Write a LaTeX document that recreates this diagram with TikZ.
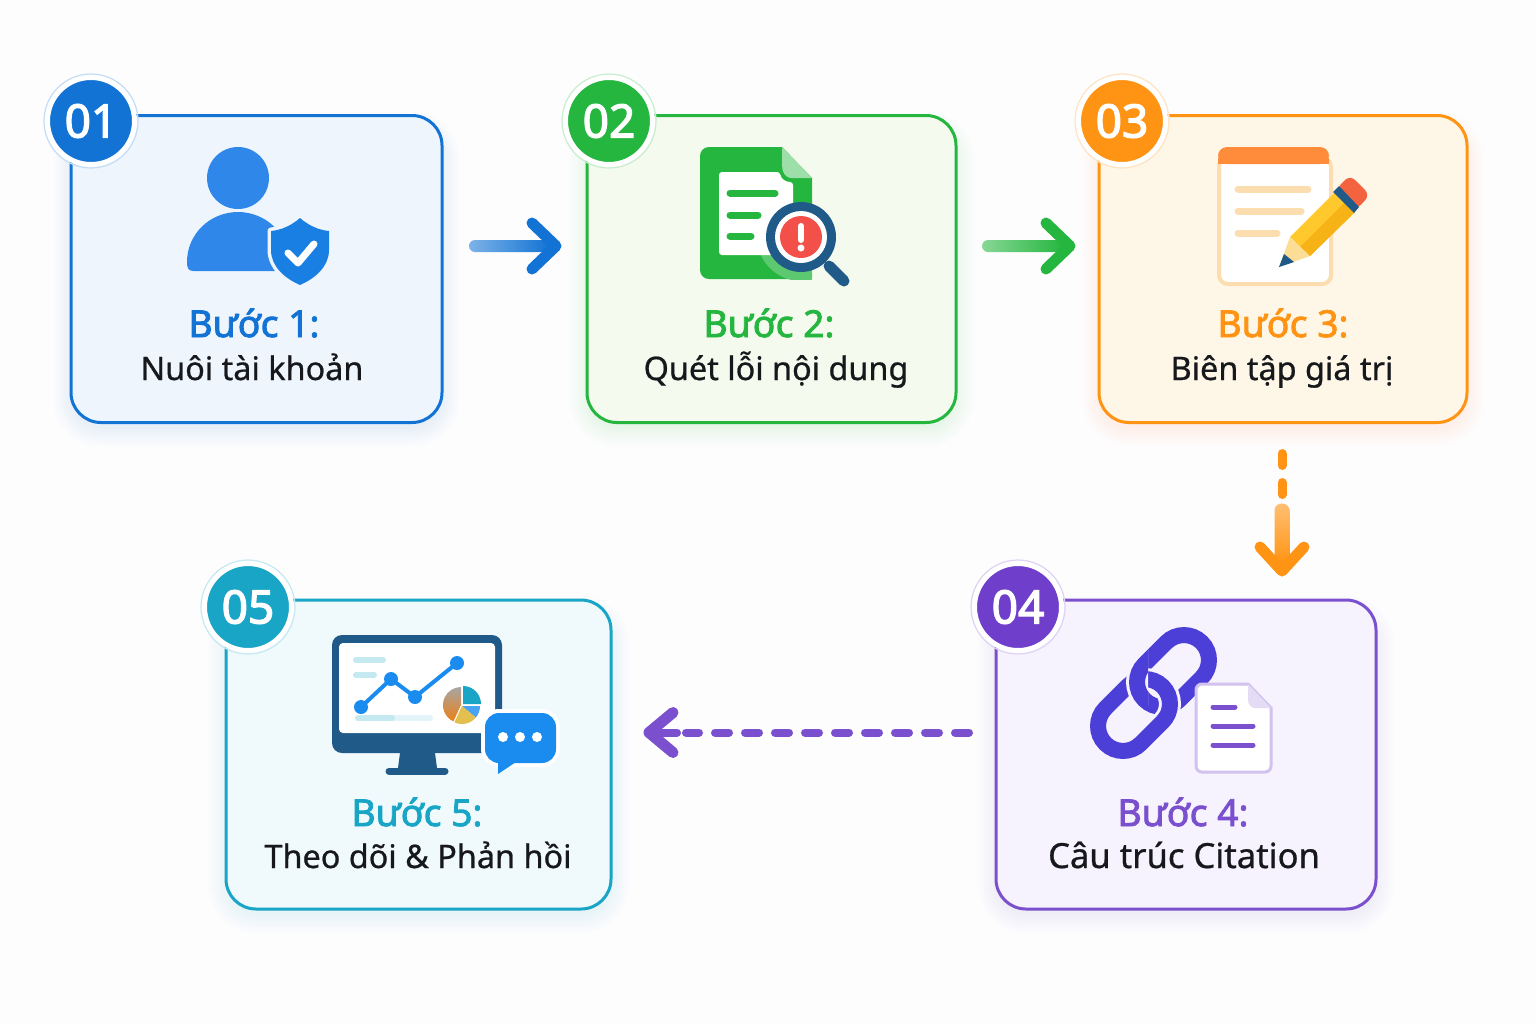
\documentclass[tikz,border=0pt]{standalone}
\usepackage{fontspec}
\setmainfont{Noto Sans}
\newfontfamily\bodyfont{Noto Sans}[RawFeature={embolden=0.7}]
\newfontfamily\titlefont{Noto Sans}[RawFeature={embolden=2.2}]
\newfontfamily\badgefont{Noto Sans}[RawFeature={embolden=2.8}]
\usetikzlibrary{calc, backgrounds}

\definecolor{pagetint}{HTML}{FDFDFE}
\definecolor{stepblue}{HTML}{1273D4}
\definecolor{stepgreen}{HTML}{25B63F}
\definecolor{steporange}{HTML}{FF9414}
\definecolor{steppurple}{HTML}{7B50CF}
\definecolor{stepteal}{HTML}{18A5C6}
\definecolor{tintblue}{HTML}{EEF5FD}
\definecolor{tintgreen}{HTML}{F4FAEE}
\definecolor{tintorange}{HTML}{FEF7E7}
\definecolor{tintpurple}{HTML}{F6F2FE}
\definecolor{tintteal}{HTML}{F0FAFD}
\definecolor{inktext}{HTML}{17181C}
\definecolor{navyline}{HTML}{1F5A88}
\definecolor{alertred}{HTML}{F4504A}
\definecolor{chainblue}{HTML}{4C3FD8}
\definecolor{skyblue}{HTML}{1A8CF0}
\definecolor{personblue}{HTML}{2F87EA}
\definecolor{shieldblue}{HTML}{1A7FE3}
\definecolor{badgepurple}{HTML}{6F3FCC}
\definecolor{padorange}{HTML}{FF8C3A}
\definecolor{padline}{HTML}{FBDDB0}
\definecolor{pencilyellow}{HTML}{FFC92E}
\definecolor{pencilamber}{HTML}{F7B216}
\definecolor{penciltip}{HTML}{FBDD95}
\definecolor{eraserred}{HTML}{F4633F}
\definecolor{piegold}{HTML}{E3BF4E}

\tikzset{
    x=0.5pt, y=-0.5pt,
    cardbox/.style={rectangle, rounded corners=15pt, line width=1.5pt, inner sep=0pt, outer sep=0pt},
    badge/.style={circle, draw=white, line width=2.5pt, minimum size=43.5pt, inner sep=0pt, text=white, font=\fontsize{23}{23}\selectfont\badgefont},
    steptitle/.style={anchor=base, inner sep=0pt, font=\fontsize{18.6}{19}\selectfont\titlefont},
    stepbody/.style={anchor=base, inner sep=0pt, text=inktext, font=\fontsize{16.2}{17}\selectfont\bodyfont},
    headline/.style={line width=5.5pt, line cap=round, line join=round},
    dashline/.style={line cap=round},
    iconbar/.style={line width=3.5pt, line cap=round},
}

\newcommand{\softshadow}[2]{%
    \begin{pgfonlayer}{background}
        \foreach \s in {0,3,...,18} {
            \fill[#2, opacity=0.012, rounded corners=15pt+\s*0.5pt] ($(#1.south west)+(-\s,\s+6)$) rectangle ($(#1.north east)+(\s,14-\s)$);
        }
    \end{pgfonlayer}%
}

\begin{document}
\begin{tikzpicture}
    \useasboundingbox (0,0) rectangle (1536,1024);
    \begin{pgfonlayer}{background}
        \fill[pagetint] (0,0) rectangle (1536,1024);
    \end{pgfonlayer}

    \node[cardbox, draw=stepblue, fill=tintblue, minimum width=185.5pt, minimum height=153.5pt] (card1) at (256.5,269) {};
    \node[cardbox, draw=stepgreen, fill=tintgreen, minimum width=184.5pt, minimum height=153.5pt] (card2) at (771.5,269) {};
    \node[cardbox, draw=steporange, fill=tintorange, minimum width=184pt, minimum height=153.5pt] (card3) at (1283,269) {};
    \node[cardbox, draw=steppurple, fill=tintpurple, minimum width=190pt, minimum height=154.5pt] (card4) at (1186,754.5) {};
    \node[cardbox, draw=stepteal, fill=tintteal, minimum width=192.5pt, minimum height=154.5pt] (card5) at (418.5,754.5) {};

    \softshadow{card1}{stepblue}
    \softshadow{card2}{stepgreen}
    \softshadow{card3}{steporange}
    \softshadow{card4}{steppurple}
    \softshadow{card5}{stepteal}

    \node[badge, fill=stepblue] (badge1) at (91,121) {01};
    \node[badge, fill=stepgreen] (badge2) at (609,121) {02};
    \node[badge, fill=steporange] (badge3) at (1122,121) {03};
    \node[badge, fill=badgepurple] (badge4) at (1018,607) {04};
    \node[badge, fill=stepteal] (badge5) at (248,607) {05};

    \draw[stepblue!25, line width=0.6pt] (badge1) circle (47);
    \draw[stepgreen!25, line width=0.6pt] (badge2) circle (47);
    \draw[steporange!25, line width=0.6pt] (badge3) circle (47);
    \draw[steppurple!25, line width=0.6pt] (badge4) circle (47);
    \draw[stepteal!25, line width=0.6pt] (badge5) circle (47);

    \node[steptitle, text=stepblue] (title1) at (254,337) {Bước 1:};
    \node[steptitle, text=stepgreen] (title2) at (769,337) {Bước 2:};
    \node[steptitle, text=steporange] (title3) at (1283,337) {Bước 3:};
    \node[steptitle, text=steppurple] (title4) at (1183,826) {Bước 4:};
    \node[steptitle, text=stepteal] (title5) at (417,826) {Bước 5:};

    \node[stepbody] (body1) at (252,380) {Nuôi tài khoản};
    \node[stepbody] (body2) at (776,380) {Quét lỗi nội dung};
    \node[stepbody] (body3) at (1282,380) {Biên tập giá trị};
    \node[stepbody, font=\fontsize{17.3}{18}\selectfont\bodyfont] (body4) at (1184,868) {Câu trúc Citation};
    \node[stepbody] (body5) at (418,868) {Theo dõi \& Phản hồi};

    \coordinate (link12a) at ($(card1.east)+(33,-23)$);
    \coordinate (link12b) at ($(card2.west)+(-31,-23)$);
    \coordinate (link23a) at ($(card2.east)+(32,-23)$);
    \coordinate (link23b) at ($(card3.west)+(-29,-23)$);
    \coordinate (link34a) at ($(card3.south)+(-1,31)$);
    \coordinate (link34b) at ($(card4.north)+(96,-29)$);
    \coordinate (link45a) at ($(card4.west)+(-27,-22)$);
    \coordinate (link45b) at ($(card5.east)+(38,-22)$);

    \shade[left color=stepblue!55!white, right color=stepblue, rounded corners=3pt] ($(link12a)+(-6,-6)$) rectangle ($(link12b)+(-6,6)$);
    \draw[headline, stepblue] ($(link12b)+(-24,-23)$) -- (link12b) -- ($(link12b)+(-24,23)$);

    \shade[left color=stepgreen!55!white, right color=stepgreen, rounded corners=3pt] ($(link23a)+(-6,-6)$) rectangle ($(link23b)+(-6,6)$);
    \draw[headline, stepgreen] ($(link23b)+(-24,-23)$) -- (link23b) -- ($(link23b)+(-24,23)$);

    \draw[dashline, steporange, line width=4.5pt, dash pattern=on 6pt off 8.5pt] (link34a) -- ($(link34a)+(0,43)$);
    \shade[top color=steporange!60!white, bottom color=steporange, rounded corners=3.5pt] ($(link34a)+(-7.5,50)$) rectangle ($(link34b)+(7.5,-8)$);
    \draw[headline, steporange] ($(link34b)+(-22,-24)$) -- (link34b) -- ($(link34b)+(22,-24)$);

    \draw[dashline, steppurple, line width=4pt, dash pattern=on 7pt off 8pt] (link45a) -- ($(link45b)+(37,0)$);
    \draw[headline, steppurple] ($(link45b)+(24,-20)$) -- (link45b) -- ($(link45b)+(24,20)$);
    \draw[steppurple, line width=4pt, line cap=round] (link45b) -- ($(link45b)+(28,0)$);

    \fill[personblue] (238,178) circle (31);
    \fill[personblue] (193,271) .. controls (188,271) and (187,267) .. (187,262) .. controls (187,234) and (210,212) .. (238,212) .. controls (266,212) and (289,234) .. (289,262) -- (289,271) -- cycle;
    \draw[tintblue, line width=3.5pt, line join=round] (300,218) .. controls (308,225) and (318,230) .. (329,231) -- (329,250) .. controls (329,266) and (316,278) .. (300,285) .. controls (284,278) and (271,266) .. (271,250) -- (271,231) .. controls (282,230) and (292,225) .. (300,218) -- cycle;
    \fill[shieldblue] (300,218) .. controls (308,225) and (318,230) .. (329,231) -- (329,250) .. controls (329,266) and (316,278) .. (300,285) .. controls (284,278) and (271,266) .. (271,250) -- (271,231) .. controls (282,230) and (292,225) .. (300,218) -- cycle;
    \draw[white, line width=3.5pt, line cap=round, line join=round] (288,253) -- (298,263) -- (314,244);

    \fill[stepgreen, rounded corners=4.5pt] (782,147) -- (700,147) -- (700,279) -- (812,279) [sharp corners] -- (812,178) -- (782,147) -- cycle;
    \begin{scope}
        \clip (719,255) rectangle (812,279);
        \fill[stepgreen!75!white] (801,237) circle (44);
    \end{scope}
    \fill[white, rounded corners=1.5pt] (719,172) -- (780,172) .. controls (781,179) and (786,182) .. (793,182) -- (793,255) -- (719,255) -- cycle;
    \fill[stepgreen!45!white] (782,147) -- (812,178) -- (792,178) .. controls (785,178) and (782,172) .. (782,165) -- cycle;
    \draw[iconbar, stepgreen] (730,193) -- (775,193);
    \draw[iconbar, stepgreen] (730,215) -- (758,215);
    \draw[iconbar, stepgreen] (730,236) -- (751,236);
    \draw[navyline, line width=5.5pt, line cap=round] (829,266) -- (844,281);
    \fill[navyline] (801,237) circle (35);
    \fill[white] (801,237) circle (26);
    \fill[alertred] (801,237) circle (21);
    \draw[white, line width=3pt, line cap=round] (801,226) -- (801,240);
    \fill[white] (801,248) circle (3.5);

    \draw[padline, line width=2pt, fill=white, rounded corners=4.5pt] (1219,158) rectangle (1331,284);
    \fill[padorange, rounded corners=4.5pt] (1218,164) -- (1218,147) -- (1329,147) -- (1329,164) -- cycle;
    \fill[padorange] (1218,158) rectangle (1329,164);
    \draw[iconbar, padline] (1238,189) -- (1308,189);
    \draw[iconbar, padline] (1238,211) -- (1301,211);
    \draw[iconbar, padline] (1238,233) -- (1277,233);
    \fill[pencilyellow] (1290,237) -- (1335,192) -- (1355,212) -- (1310,256) -- cycle;
    \fill[pencilamber] (1300,247) -- (1345,202) -- (1355,212) -- (1310,256) -- cycle;
    \fill[penciltip] (1290,237) -- (1310,256) -- (1279,267) -- cycle;
    \fill[navyline] (1279,267) -- (1284,254) -- (1294,262) -- cycle;
    \fill[eraserred, rounded corners=3.5pt] (1336,189) -- (1350,175) -- (1370,195) -- (1356,210) -- cycle;
    \fill[navyline] (1333,192) -- (1339,186) -- (1359,207) -- (1354,213) -- cycle;

    \begin{scope}[shift={(1173,671)}, rotate=45]
        \draw[chainblue, line width=8pt, rounded corners=12.5pt] (-40.5,-25) rectangle (40.5,25);
    \end{scope}
    \begin{scope}[shift={(1134,715)}, rotate=45]
        \draw[tintpurple, line width=11pt, rounded corners=12.5pt] (-40.5,-25) rectangle (40.5,25);
        \draw[chainblue, line width=8pt, rounded corners=12.5pt] (-40.5,-25) rectangle (40.5,25);
    \end{scope}
    \begin{scope}
        \clip (1105,650) rectangle (1148,705);
        \begin{scope}[shift={(1173,671)}, rotate=45]
            \draw[tintpurple, line width=11pt, rounded corners=12.5pt] (-40.5,-25) rectangle (40.5,25);
            \draw[chainblue, line width=8pt, rounded corners=12.5pt] (-40.5,-25) rectangle (40.5,25);
        \end{scope}
    \end{scope}
    \draw[steppurple!35!white, line width=1.5pt, fill=white, rounded corners=3pt] (1248,684) -- (1196,684) -- (1196,772) -- (1271,772) [sharp corners] -- (1271,708) -- (1248,684) -- cycle;
    \fill[steppurple!20!white] (1248,684) -- (1271,708) -- (1255,708) .. controls (1251,708) and (1248,704) .. (1248,700) -- cycle;
    \draw[steppurple, line width=2.5pt, line cap=round] (1213,707) -- (1235,707);
    \draw[steppurple, line width=2.5pt, line cap=round] (1213,726) -- (1253,726);
    \draw[steppurple, line width=2.5pt, line cap=round] (1213,745) -- (1253,745);

    \fill[navyline, rounded corners=5pt] (332,635) rectangle (502,753);
    \fill[white, rounded corners=2pt] (339,643) rectangle (495,733);
    \fill[navyline] (400,753) -- (435,753) -- (437,768) -- (398,768) -- cycle;
    \draw[navyline, line width=3.5pt, line cap=round] (389,771) -- (445,771);
    \draw[stepteal!25!white, line width=3pt, line cap=round] (356,660) -- (383,660);
    \draw[stepteal!25!white, line width=3pt, line cap=round] (356,675) -- (374,675);
    \draw[stepteal!12!white, line width=3pt, line cap=round] (358,718) -- (430,718);
    \draw[stepteal!25!white, line width=3pt, line cap=round] (358,718) -- (392,718);
    \draw[skyblue, line width=2pt, line join=round] (361,707) -- (391,679) -- (415,697) -- (457,663);
    \fill[skyblue] (361,707) circle (7);
    \fill[skyblue] (391,679) circle (7);
    \fill[skyblue] (415,697) circle (7);
    \fill[skyblue] (457,663) circle (7);
    \fill[stepteal] (463,704) -- (463,686) arc (-90:0:18) -- cycle;
    \fill[skyblue!80!white] (462,706) -- (480,706) arc (0:40:18) -- cycle;
    \fill[piegold] (462,706) -- ($(462,706)+(40:18)$) arc (40:115:18) -- cycle;
    \shade[top color=gray!70!white, bottom color=orange!70!brown] (461,705) -- ($(461,705)+(115:18)$) arc (115:270:18) -- cycle;
    \draw[white, line width=4pt, rounded corners=7pt] (485,713) rectangle (556,763);
    \fill[skyblue, rounded corners=7pt] (485,713) rectangle (556,763);
    \fill[skyblue] (498,755) -- (498,774) -- (516,762) -- cycle;
    \fill[white] (503,737) circle (5);
    \fill[white] (520,737) circle (5);
    \fill[white] (537,737) circle (5);
\end{tikzpicture}
\end{document}
